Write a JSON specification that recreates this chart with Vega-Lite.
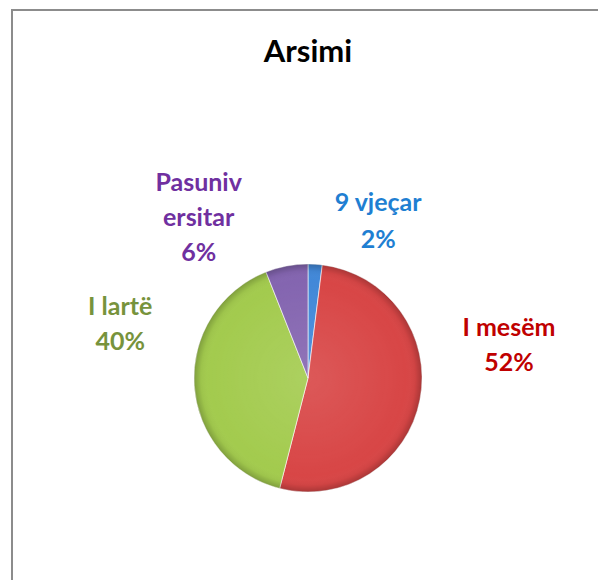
{
  "$schema": "https://vega.github.io/schema/vega-lite/v6.json",
  "width": 592,
  "height": 736,
  "autosize": {"type": "none"},
  "padding": {"left": 12, "top": 10, "right": 0, "bottom": 0},
  "background": "white",
  "config": {"view": {"stroke": null}, "font": "Lato"},
  "title": {"text": "Arsimi", "font": "Lato", "fontSize": 31, "fontWeight": "bold", "color": "#000000", "anchor": "middle", "baseline": "alphabetic", "frame": "group", "offset": -53, "dy": 31},
  "data": {"values": [
    {"arsimi": "9 vjeçar", "pct": 2, "rank": 1, "label": "9 vjeçar\n2%"},
    {"arsimi": "I mesëm", "pct": 52, "rank": 2, "label": "I mesëm\n52%"},
    {"arsimi": "I lartë", "pct": 40, "rank": 3, "label": "I lartë\n40%"},
    {"arsimi": "Pasuniversitar", "pct": 6, "rank": 4, "label": "Pasuniv\nersitar\n6%"}
  ]},
  "layer": [
    {
      "mark": {"type": "rect", "fill": null, "stroke": "#8c8c8c", "strokeWidth": 2},
      "encoding": {}
    },
    {
      "mark": {"type": "arc", "outerRadius": 114, "stroke": "#ffffff", "strokeWidth": 0.6},
      "encoding": {
        "theta": {"field": "pct", "type": "quantitative", "stack": true},
        "order": {"field": "rank", "type": "ordinal"},
        "color": {"field": "arsimi", "type": "nominal", "legend": null,
          "scale": {"domain": ["9 vjeçar", "I mesëm", "I lartë", "Pasuniversitar"], "range": ["#4288d8", "#d84646", "#a3cb4e", "#8465b0"]}}
      }
    },
    {
      "mark": {"type": "arc", "outerRadius": 114,
        "fill": {"gradient": "radial", "stops": [
          {"offset": 0, "color": "rgba(255,255,255,0.10)"},
          {"offset": 0.86, "color": "rgba(255,255,255,0.0)"},
          {"offset": 0.94, "color": "rgba(0,0,0,0.04)"},
          {"offset": 1, "color": "rgba(0,0,0,0.22)"}]}},
      "encoding": {
        "theta": {"aggregate": "sum", "field": "pct", "type": "quantitative", "stack": true}
      }
    },
    {
      "mark": {"type": "text", "radius": 114, "dx": 63, "dy": -61, "align": "center", "baseline": "middle", "font": "Lato", "fontSize": 25, "fontWeight": "bold", "lineBreak": "\n", "lineHeight": 37, "color": "#1f7fd2"},
      "encoding": {
        "theta": {"field": "pct", "type": "quantitative", "stack": true},
        "order": {"field": "rank", "type": "ordinal"},
        "text": {"condition": {"test": "datum.rank == 1", "field": "label"}, "value": ""}
      }
    },
    {
      "mark": {"type": "text", "radius": 114, "dx": 89, "dy": -71, "align": "center", "baseline": "middle", "font": "Lato", "fontSize": 25, "fontWeight": "bold", "lineBreak": "\n", "lineHeight": 35, "color": "#c00000"},
      "encoding": {
        "theta": {"field": "pct", "type": "quantitative", "stack": true},
        "order": {"field": "rank", "type": "ordinal"},
        "text": {"condition": {"test": "datum.rank == 2", "field": "label"}, "value": ""}
      }
    },
    {
      "mark": {"type": "text", "radius": 114, "dx": -74, "dy": -78, "align": "center", "baseline": "middle", "font": "Lato", "fontSize": 25, "fontWeight": "bold", "lineBreak": "\n", "lineHeight": 35, "color": "#77933c"},
      "encoding": {
        "theta": {"field": "pct", "type": "quantitative", "stack": true},
        "order": {"field": "rank", "type": "ordinal"},
        "text": {"condition": {"test": "datum.rank == 3", "field": "label"}, "value": ""}
      }
    },
    {
      "mark": {"type": "text", "radius": 114, "dx": -88, "dy": -83, "align": "center", "baseline": "middle", "font": "Lato", "fontSize": 25, "fontWeight": "bold", "lineBreak": "\n", "lineHeight": 35, "color": "#7030a0"},
      "encoding": {
        "theta": {"field": "pct", "type": "quantitative", "stack": true},
        "order": {"field": "rank", "type": "ordinal"},
        "text": {"condition": {"test": "datum.rank == 4", "field": "label"}, "value": ""}
      }
    }
  ]
}
